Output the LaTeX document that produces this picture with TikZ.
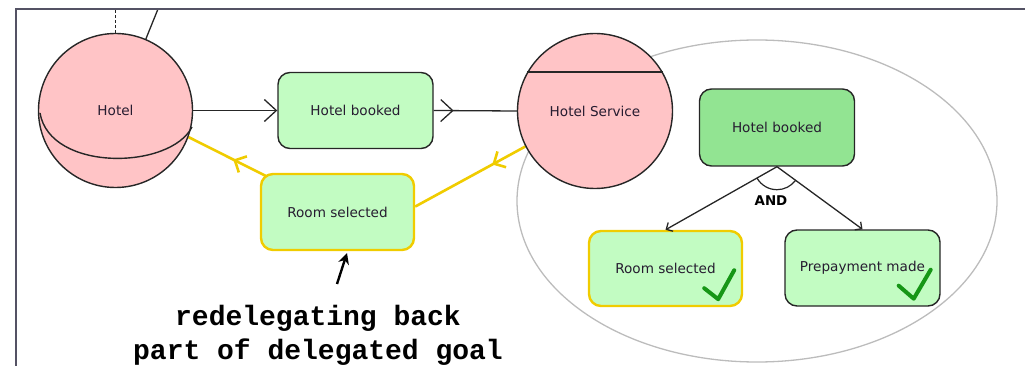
\documentclass[tikz,border=0pt]{standalone}
\usepackage{fontspec}
\setmainfont{DejaVu Sans}
\newfontfamily\annfont{Liberation Mono}
\usetikzlibrary{arrows.meta,decorations.markings,calc,shapes.geometric}
\definecolor{pinkf}{RGB}{255,196,198}
\definecolor{lgreen}{RGB}{194,252,194}
\definecolor{dgreen}{RGB}{146,228,146}
\definecolor{yel}{RGB}{240,204,0}
\definecolor{framec}{RGB}{84,82,100}
\definecolor{ellc}{RGB}{188,188,188}
\definecolor{chkc}{RGB}{22,150,22}
\definecolor{txt}{RGB}{38,28,48}
\pgfdeclarelayer{bg}
\pgfsetlayers{bg,main}
\begin{document}
\begin{tikzpicture}[x=1pt,y=-1pt,
  lbl/.style={font=\fontsize{13.6}{16}\selectfont, text=txt},
  actor/.style={circle, draw=black!85, line width=1.4pt, fill=pinkf, inner sep=0pt, lbl},
  goalbox/.style={rectangle, rounded corners=12pt, draw=black!85, line width=1.4pt, fill=lgreen,
     minimum width=155pt, minimum height=76pt, inner sep=0pt, lbl},
  yelbox/.style={goalbox, draw=yel, line width=2.4pt, minimum width=153pt},
  conn/.style={line width=1.3pt, black!85},
  yconn/.style={line width=2.6pt, yel},
  bigbarb/.style={postaction={decorate}, decoration={markings,
     mark=at position #1 with {\arrow{Straight Barb[length=12pt,width=22pt]}}}},
  ybarb/.style={postaction={decorate}, decoration={markings,
     mark=at position #1 with {\arrow{Straight Barb[length=9pt,width=18pt]}}}},
  chk/.style={line width=4pt, chkc, line cap=round, line join=round},
  ann/.style={font=\annfont\bfseries\fontsize{28}{33}\selectfont, text=black, inner sep=0pt, anchor=base}
]
\useasboundingbox (0,0) rectangle (1025,366);

% frame
\draw[framec, line width=2.6pt] (16,366) -- (16,9) -- (1025,9);

% boundary ellipse
\node[ellipse, draw=ellc, line width=1.3pt, minimum width=480pt, minimum height=322pt, inner sep=0pt] (bound) at (757,201) {};

% actors
\node[actor, minimum size=154pt] (hotel) at (115.5,110.5) {Hotel};
\node[actor, minimum size=155pt] (hs) at (595,111) {Hotel Service};
\draw[line width=1.4pt, black!85] (40,113) .. controls (50,172) and (170,170) .. (192,127);
\draw[line width=1.4pt, black!85] (hs.150) -- (hs.30);

% dependums
\node[goalbox] (hb1) at (355.5,110.5) {Hotel booked};
\node[yelbox] (rs1) at (337.5,212) {Room selected};

% inside boundary
\node[goalbox, fill=dgreen, minimum height=77pt] (hb2) at (777,127.5) {Hotel booked};
\node[yelbox, minimum height=75pt] (rs2) at (665.5,268.5) {Room selected};
\node[goalbox] (pm) at (862.5,268) {Prepayment made};

% checkmarks
\draw[chk] ($(rs2.south east)+(-39,-19)$) -- ($(rs2.south east)+(-25,-8)$) -- ($(rs2.south east)+(-9,-37)$);
\draw[chk] ($(pm.south east)+(-42,-21)$) -- ($(pm.south east)+(-27,-8)$) -- ($(pm.south east)+(-10,-37)$);

% top connectors (off picture)
\coordinate (t1) at (115.5,9);
\coordinate (t2) at (158,9);

\begin{pgfonlayer}{bg}
\draw[conn, dash pattern=on 3pt off 2pt] (hotel.north) -- (t1);
\draw[conn] (hotel.67) -- (t2);
\draw[conn, -{Straight Barb[length=12pt,width=22pt]}] (hotel.east) -- (hb1.west);
\draw[conn, bigbarb=0.24] (hb1.east) -- (hs.west);
\draw[yconn, ybarb=0.3] (hs.207) -- (rs1.4);
\draw[yconn, ybarb=0.7] (rs1.center) -- (hotel.340);
\end{pgfonlayer}

% AND decomposition
\draw[conn, -{Straight Barb[length=5pt,width=10pt]}] (hb2.south) -- (rs2.north);
\draw[conn, -{Straight Barb[length=5pt,width=10pt]}] (hb2.south) -- (pm.north);
\draw[conn, line width=1.2pt] ([shift={(210:23pt)}]hb2.south) arc[start angle=210, end angle=323, radius=23pt];
\node[font=\bfseries\fontsize{13.4}{16}\selectfont, text=black, inner sep=0pt] (andl) at (771,201) {AND};

% annotation
\node[ann] (note1) at (318,325) {redelegating back};
\node[ann] (note2) at (318,359) {part of delegated goal};
\coordinate (a1) at (337,284);
\coordinate (a2) at (347,253);
\draw[line width=2.4pt, black, -{Stealth[length=11pt,width=11pt]}] (a1) -- (a2);
\end{tikzpicture}
\end{document}
